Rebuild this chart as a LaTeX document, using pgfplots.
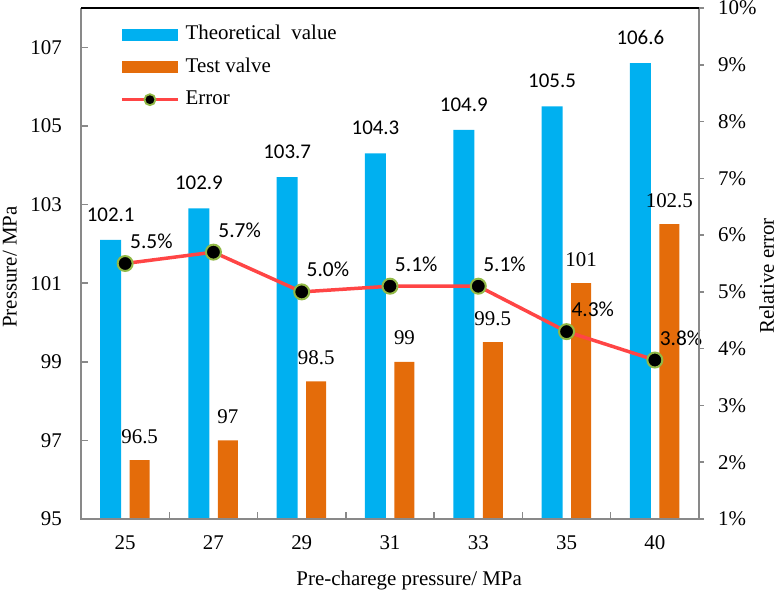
\documentclass[border=0pt]{standalone}
\usepackage{fontspec}
\setmainfont{Liberation Serif}
\newfontfamily\carlito{Carlito}
\usepackage{pgfplots}
\usepackage{pgfplotstable}
\pgfplotsset{compat=1.18}

\definecolor{barblue}{HTML}{00B0F0}
\definecolor{barorange}{HTML}{E46C0A}
\definecolor{errred}{HTML}{FF4545}
\definecolor{ringgreen}{HTML}{92B946}
\definecolor{axgray}{HTML}{898989}

% pre-charge pressure index, theoretical and tested pressure (MPa), relative error (%)
\pgfplotstableread{
x theo test err
0 102.1 96.5 5.5
1 102.9 97 5.7
2 103.7 98.5 5.0
3 104.3 99 5.1
4 104.9 99.5 5.1
5 105.5 101 4.3
6 106.6 102.5 3.8
}\datatable

\begin{document}
\begin{tikzpicture}
\pgfplotsset{
  every axis/.append style={
    width=618bp, height=511bp, scale only axis,
    xmin=-0.5, xmax=6.5,
    /pgf/number format/assume math mode=true,
    font=\rmfamily\fontsize{21}{25}\selectfont,
    ticklabel style={font=\rmfamily\fontsize{21}{25}\selectfont},
    axis line style={draw=none},
    clip=false,
  },
}
% pressure bars on the left axis
\begin{axis}[
  ymin=95, ymax=108, ytick={95,97,...,107},
  xtick={0,...,6}, xticklabels={25,27,29,31,33,35,40},
  minor xtick={0.5,1.5,...,5.5},
  xtick pos=bottom, ytick pos=left,
  tick align=inside,
  major tick length=7bp, minor tick length=7bp,
  major x tick style={draw=none},
  tick style={axgray, line width=1.5bp},
  yticklabel style={inner sep=0pt, anchor=east, xshift=-19bp},
  xticklabel style={inner sep=0pt, anchor=north, yshift=-16bp},
  xlabel={Pre-charege pressure/ MPa},
  xlabel style={at={(axis description cs:0.531,-0.131)}, anchor=base, inner sep=0pt},
  ylabel={Pressure/ MPa},
  ylabel style={at={(axis description cs:-0.104,0.493)}, anchor=base, inner sep=0pt},
  legend style={at={(axis description cs:0,1)}, anchor=north west,
    xshift=39bp, yshift=-17.5bp, draw=none, fill=none, inner sep=0pt,
    row sep=14.5bp, column sep=6bp,
    nodes={inner sep=0pt, anchor=west, text height=14bp, text depth=4bp},
    font=\rmfamily\fontsize{21}{25}\selectfont},
  legend cell align=left,
]
\addplot[ybar, bar width=21bp, bar shift=-14.5bp, fill=barblue, draw=none,
  nodes near coords,
  nodes near coords style={font=\carlito\fontsize{21}{25}\selectfont, anchor=base, inner sep=0pt, xshift=-14.5bp, yshift=18.5bp},
  legend image code/.code={\fill[barblue] (0bp,-6bp) rectangle (56bp,6bp);}]
  table[x=x, y=theo]{\datatable};
\addlegendentry{Theoretical\ \ value}
\addplot[ybar, bar width=20bp, bar shift=14.5bp, fill=barorange, draw=none,
  nodes near coords,
  nodes near coords style={font=\rmfamily\fontsize{21}{25}\selectfont, anchor=base, inner sep=0pt, xshift=14.5bp, yshift=17bp},
  legend image code/.code={\fill[barorange] (0bp,-6bp) rectangle (56bp,6bp);}]
  table[x=x, y=test]{\datatable};
\addlegendentry{Test valve}
\addlegendimage{legend image code/.code={
  \draw[errred, line width=3.5bp] (0bp,0bp) -- (56bp,0bp);
  \fill[black, draw=ringgreen, line width=1.8bp] (28bp,0bp) circle (5.5bp);}}
\addlegendentry{Error}
\coordinate (bl) at (rel axis cs:0,0);
\coordinate (tr) at (rel axis cs:1,1);
\end{axis}

% relative error line on the right axis
\begin{axis}[
  ymin=1, ymax=10, ytick={1,...,10},
  yticklabel={\pgfmathprintnumber{\tick}\%},
  hide x axis,
  ytick pos=right,
  tick align=outside, major tick length=5bp,
  tick style={axgray, line width=1.5bp},
  yticklabel style={inner sep=0pt, anchor=west, xshift=14bp},
  ylabel={Relative error},
  ylabel style={at={(axis description cs:1.121,0.4755)}, anchor=base, inner sep=0pt},
]
\addplot[errred, line width=3.5bp, mark=*, mark size=7.5bp,
  mark options={fill=black, draw=ringgreen, line width=2bp},
  point meta=y,
  nodes near coords={\pgfmathprintnumber[fixed, fixed zerofill, precision=1]{\pgfplotspointmeta}\%},
  nodes near coords style={font=\carlito\fontsize{21.5}{25}\selectfont, text=black, anchor=base west, inner sep=0pt, xshift=4bp, yshift=15bp}]
  table[x=x, y=err]{\datatable};
\end{axis}

% frame: grey axes left, right, bottom; black top edge
\draw[axgray, line width=1.8bp] (bl|-tr) -- (bl) -- (tr|-bl) -- (tr);
\draw[black, line width=1.2bp] (bl|-tr) -- (tr);

\pgfresetboundingbox
\path[use as bounding box] ([shift={(-81bp,-76bp)}]bl) rectangle ([shift={(697bp,519bp)}]bl);
\end{tikzpicture}
\end{document}
